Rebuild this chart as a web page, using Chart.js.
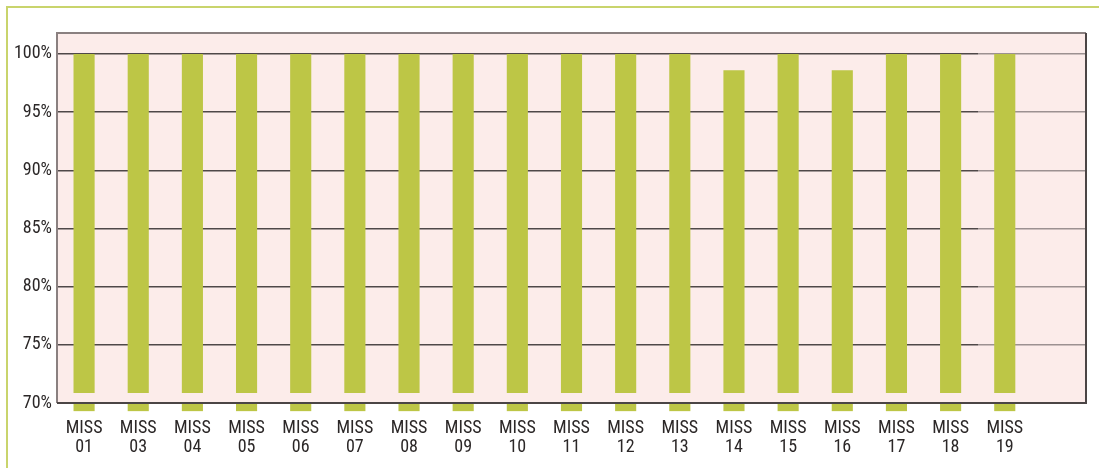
<!DOCTYPE html>
<html>
<head>
<meta charset="utf-8">
<script src="https://cdn.jsdelivr.net/npm/chart.js@4/dist/chart.umd.min.js"></script>
<style>
  html, body { margin: 0; padding: 0; background: #fff; }
  #wrap { position: relative; width: 1099px; height: 468px; }
  #frame { position: absolute; left: 6px; top: 6px; right: 0; bottom: 0;
           border-left: 2px solid #c9d46c; border-top: 2px solid #c9d46c; }
  canvas { position: absolute; left: 0; top: 0; }
</style>
</head>
<body>
<div id="wrap">
  <div id="frame"></div>
  <canvas id="chart" width="1099" height="468"></canvas>
</div>
<script>
// categories (last slot is empty in the original)
const missions = ['01', '03', '04', '05', '06', '07', '08', '09', '10', '11', '12', '13', '14', '15', '16', '17', '18', '19', ''];
// percentage per mission
const values = [100, 100, 100, 100, 100, 100, 100, 100, 100, 100, 100, 100, 98.6, 100, 98.6, 100, 100, 100, null];
const yTicks = [70, 75, 80, 85, 90, 95, 100];
const yMin = 70;
const yMax = 101.8;
const barBase = 70.85;   // bars start just above the axis
const stubBottom = 69.3; // the small piece below the axis

const green = '#bdc646';
const font = "'Roboto Condensed', 'Liberation Sans Narrow', 'Arial Narrow', 'DejaVu Sans Condensed', sans-serif";

// pink background + frame of the plot area
const plotFrame = {
    id: 'plotFrame',
    beforeDraw(chart) {
        const a = chart.chartArea, c = chart.ctx;
        c.save();
        c.fillStyle = '#fcecea';
        c.fillRect(a.left, a.top, a.right - a.left, a.bottom - a.top);
        c.restore();
    },
    afterDatasetsDraw(chart) {
        const a = chart.chartArea, c = chart.ctx;
        c.save();
        c.lineWidth = 2;
        c.strokeStyle = '#8a8080';
        c.beginPath();
        c.moveTo(a.left, a.bottom); c.lineTo(a.left, a.top); c.lineTo(a.right, a.top);
        c.stroke();
        c.strokeStyle = '#4b4545';
        c.beginPath();
        c.moveTo(a.right, a.top); c.lineTo(a.right, a.bottom); c.lineTo(a.left, a.bottom);
        c.stroke();
        c.restore();
    }
};

const labels = missions.map(m => m ? ['MISS', m] : '');

new Chart(document.getElementById('chart'), {
    type: 'bar',
    data: {
        labels: labels,
        datasets: [{
            data: values.map(v => v == null ? null : [barBase, v]),
            backgroundColor: green,
            borderWidth: 0,
            grouped: false
        }, {
            data: values.map(v => v == null ? null : [stubBottom, yMin]),
            backgroundColor: green,
            borderWidth: 0,
            grouped: false,
            clip: false
        }]
    },
    options: {
        responsive: false,
        animation: false,
        layout: { padding: { top: 33, right: 13, left: 0, bottom: 0 } },
        plugins: { legend: { display: false }, tooltip: { enabled: false } },
        datasets: { bar: { categoryPercentage: 1, barPercentage: 0.39 } },
        scales: {
            x: {
                offset: true,
                grid: { display: false, drawTicks: false },
                border: { display: false },
                ticks: {
                    color: '#2b2727',
                    font: { family: font, size: 18, lineHeight: 1.05 },
                    padding: 16,
                    maxRotation: 0,
                    autoSkip: false
                },
                afterFit(s) { s.height = 65; }
            },
            y: {
                min: yMin,
                max: yMax,
                afterBuildTicks(s) { s.ticks = yTicks.map(v => ({ value: v })); },
                grid: {
                    drawTicks: false,
                    lineWidth: 1.5,
                    color(ctx) {
                        const a = ctx.chart.chartArea;
                        if (!a) return '#4f4848';
                        const g = ctx.chart.ctx.createLinearGradient(a.left, 0, a.right, 0);
                        const cut = (978 - a.left) / (a.right - a.left);
                        g.addColorStop(0, '#4f4848');
                        g.addColorStop(cut, '#4f4848');
                        g.addColorStop(cut, '#9c9191');
                        g.addColorStop(1, '#9c9191');
                        return g;
                    }
                },
                border: { display: false },
                ticks: {
                    color: '#2b2727',
                    font: { family: font, size: 18 },
                    padding: 5,
                    callback: v => v + '%'
                },
                afterFit(s) { s.width = 57; }
            }
        }
    },
    plugins: [plotFrame]
});
</script>
</body>
</html>
